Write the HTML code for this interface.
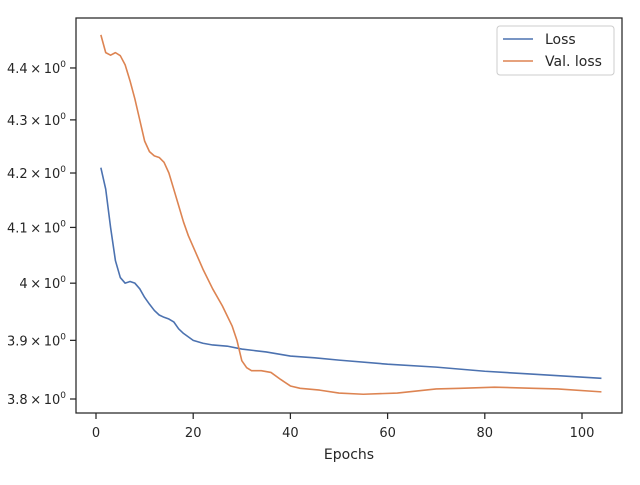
<!DOCTYPE html>
<html><head><meta charset="utf-8"><style>
body{margin:0;background:#fff;font-family:"Liberation Sans","DejaVu Sans",sans-serif}
svg text{font-family:"DejaVu Sans","Liberation Sans",sans-serif;fill:#262626}
</style></head><body>
<svg width="640" height="480" id="c"></svg>
<script>
const lossEpochs=[1,2,3,4,5,6,7,8,9,10,11,12,13,14,15,16,17,18,19,20,22,24,27,30,35,40,45,50,60,70,80,90,104];
const lossValues=[4.21,4.17,4.10,4.04,4.01,4.0,4.003,4.0,3.99,3.975,3.963,3.952,3.944,3.94,3.937,3.932,3.92,3.912,3.906,3.9,3.895,3.892,3.89,3.885,3.88,3.873,3.87,3.866,3.859,3.854,3.847,3.842,3.835];
const valEpochs=[1,2,3,4,5,6,7,8,9,10,11,12,13,14,15,16,17,18,19,20,22,24,26,28,29,30,31,32,34,36,38,40,42,46,50,55,62,70,75,82,90,95,104];
const valValues=[4.465,4.43,4.425,4.43,4.424,4.406,4.375,4.34,4.30,4.26,4.24,4.232,4.229,4.22,4.20,4.17,4.14,4.11,4.085,4.065,4.025,3.99,3.96,3.925,3.9,3.865,3.853,3.848,3.848,3.845,3.833,3.822,3.818,3.815,3.81,3.808,3.81,3.817,3.818,3.82,3.818,3.817,3.812];
const xTicks=[0,20,40,60,80,100];
const yTicks=[3.8,3.9,4.0,4.1,4.2,4.3,4.4];
const yTickLabels=["3.8","3.9","4","4.1","4.2","4.3","4.4"];
const NS="http://www.w3.org/2000/svg",svg=document.getElementById('c');
const X=v=>96+4.86*v;
const Y=v=>399-(Math.log(v)-Math.log(3.8))*2258;
function mk(t,a,p){const e=document.createElementNS(NS,t);for(const k in a)e.setAttribute(k,a[k]);(p||svg).appendChild(e);return e;}
const frame=mk('rect',{x:76,y:18,width:546,height:395,fill:'none',stroke:'#262626','stroke-width':1.25});


xTicks.forEach(t=>{
  const l=mk('line',{x1:X(t),x2:X(t),y1:413,y2:419,stroke:'#262626','stroke-width':1.25});
  
  
  const tx=mk('text',{x:X(t),y:437,'text-anchor':'middle','font-size':13});
  tx.textContent=t;
  
  
});
yTicks.forEach((t,i)=>{
  const l=mk('line',{x1:70,x2:76,y1:Y(t),y2:Y(t),stroke:'#262626','stroke-width':1.25});
  
  
  const tx=mk('text',{x:66,y:Y(t)+5,'text-anchor':'end','font-size':13});
  tx.innerHTML=yTickLabels[i]+'\u2009\u00d7\u200910<tspan dy="-6" font-size="9">0</tspan>';
  
  
});
function line(xs,ys,c,name){
  const p=mk('polyline',{points:xs.map((x,i)=>X(x)+','+Y(ys[i])).join(' '),fill:'none',stroke:c,'stroke-width':1.6,'stroke-linejoin':'round'});
  
  
}
line(lossEpochs,lossValues,'#4c72b0','loss-line');
line(valEpochs,valValues,'#dd8452','val-loss-line');
const xl=mk('text',{x:349,y:459,'text-anchor':'middle','font-size':14});
xl.textContent='Epochs';


const lg=mk('g',{});


mk('rect',{x:497,y:26,width:117,height:49,rx:3,fill:'#fff',stroke:'#ccc'},lg);
[['Loss','#4c72b0',39],['Val. loss','#dd8452',61]].forEach(([n,c,y])=>{
  const g=mk('g',{},lg);
  
  
  mk('line',{x1:503,x2:533,y1:y,y2:y,stroke:c,'stroke-width':1.6},g);
  const t=mk('text',{x:545,y:y+5,'font-size':14},g);t.textContent=n;
});
</script>
</body></html>
